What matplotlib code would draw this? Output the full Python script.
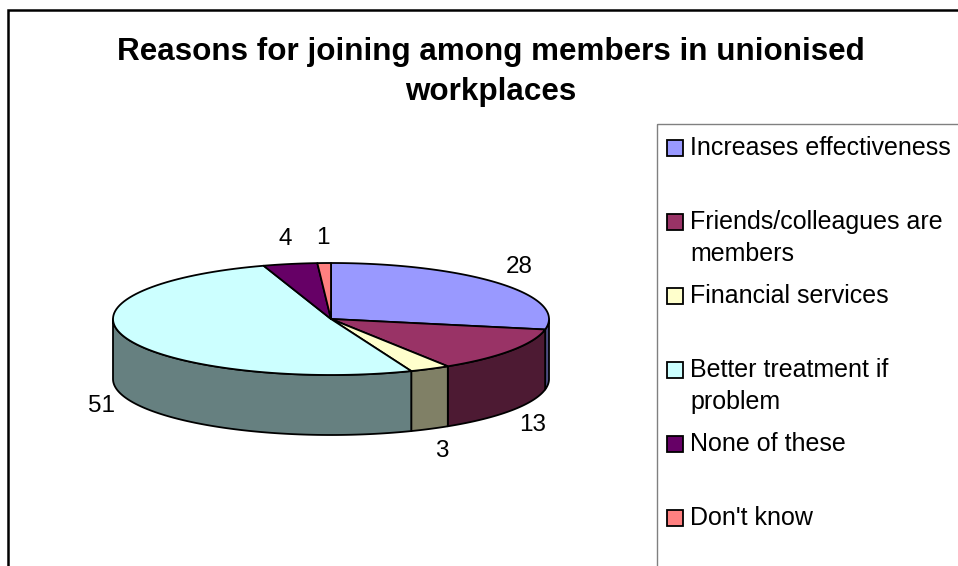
import numpy as np
import matplotlib
matplotlib.use('Agg')
import matplotlib.pyplot as plt
from matplotlib.patches import Polygon, Rectangle
from matplotlib.colors import to_rgb

# survey shares (%)
labels = ['Increases effectiveness', 'Friends/colleagues are\nmembers', 'Financial services',
          'Better treatment if\nproblem', 'None of these', "Don't know"]
values = [28, 13, 3, 51, 4, 1]
colors = ['#9999FF', '#993366', '#FFFFCC', '#CCFFFF', '#660066', '#FF8080']
title = 'Reasons for joining among members in unionised\nworkplaces'

plt.rcParams['font.family'] = ['Liberation Sans', 'DejaVu Sans']

fig = plt.figure(figsize=(9.58, 5.66), dpi=100)
ax = fig.add_axes([0, 0, 1, 1])
ax.set_xlim(0, 958)
ax.set_ylim(566, 0)
ax.axis('off')

# pie geometry in pixel units
cx, cy = 331, 319
rx, ry = 218, 56
depth = 60


def arc(t0, t1, dy=0, n=90):
    t = np.radians(np.linspace(t0, t1, n))
    return np.column_stack([cx + rx * np.cos(t), cy - ry * np.sin(t) + dy])


fracs = np.array(values, dtype=float) / sum(values)
edges = 90 - 360 * np.concatenate([[0], np.cumsum(fracs)])

# side walls, only the front half (-180..0 deg) shows
for i, c in enumerate(colors):
    hi = min(edges[i], 0)
    lo = max(edges[i + 1], -180)
    if lo < hi:
        pts = np.vstack([arc(hi, lo), arc(lo, hi, dy=depth)])
        side = np.array(to_rgb(c)) * 0.5
        ax.add_patch(Polygon(pts, closed=True, facecolor=side, edgecolor='black',
                             lw=1.3, joinstyle='round'))

# top faces
for i, c in enumerate(colors):
    pts = np.vstack([[cx, cy], arc(edges[i], edges[i + 1])])
    ax.add_patch(Polygon(pts, closed=True, facecolor=c, edgecolor='black',
                         lw=1.3, joinstyle='round'))

# value labels outside each slice
for i, v in enumerate(values):
    mid = np.radians((edges[i] + edges[i + 1]) / 2)
    lx = cx + (rx + 26) * np.cos(mid)
    ly = cy - (ry + 25) * np.sin(mid)
    if np.sin(mid) < 0:
        ly += depth
    ax.text(lx, ly, str(v), ha='center', va='center', fontsize=17.5)

# title
ax.text(491, 37, title, ha='center', va='top', fontsize=22.6,
        fontweight='bold', linespacing=1.45)

# legend box
ax.add_patch(Rectangle((657, 124), 400, 500, facecolor='none', edgecolor='#808080', lw=1.0))
for i, (lab, c) in enumerate(zip(labels, colors)):
    y = 148 + i * 74
    ax.add_patch(Rectangle((667, y - 8), 16, 16, facecolor=c, edgecolor='black', lw=1.3))
    ax.text(690, y - 12, lab, ha='left', va='top', fontsize=18, linespacing=1.4)

# chart area border
ax.plot([8.5, 8.5, 980], [600, 10, 10], color='black', lw=1.8, solid_joinstyle='miter')

fig.savefig('out.png', dpi=100)
